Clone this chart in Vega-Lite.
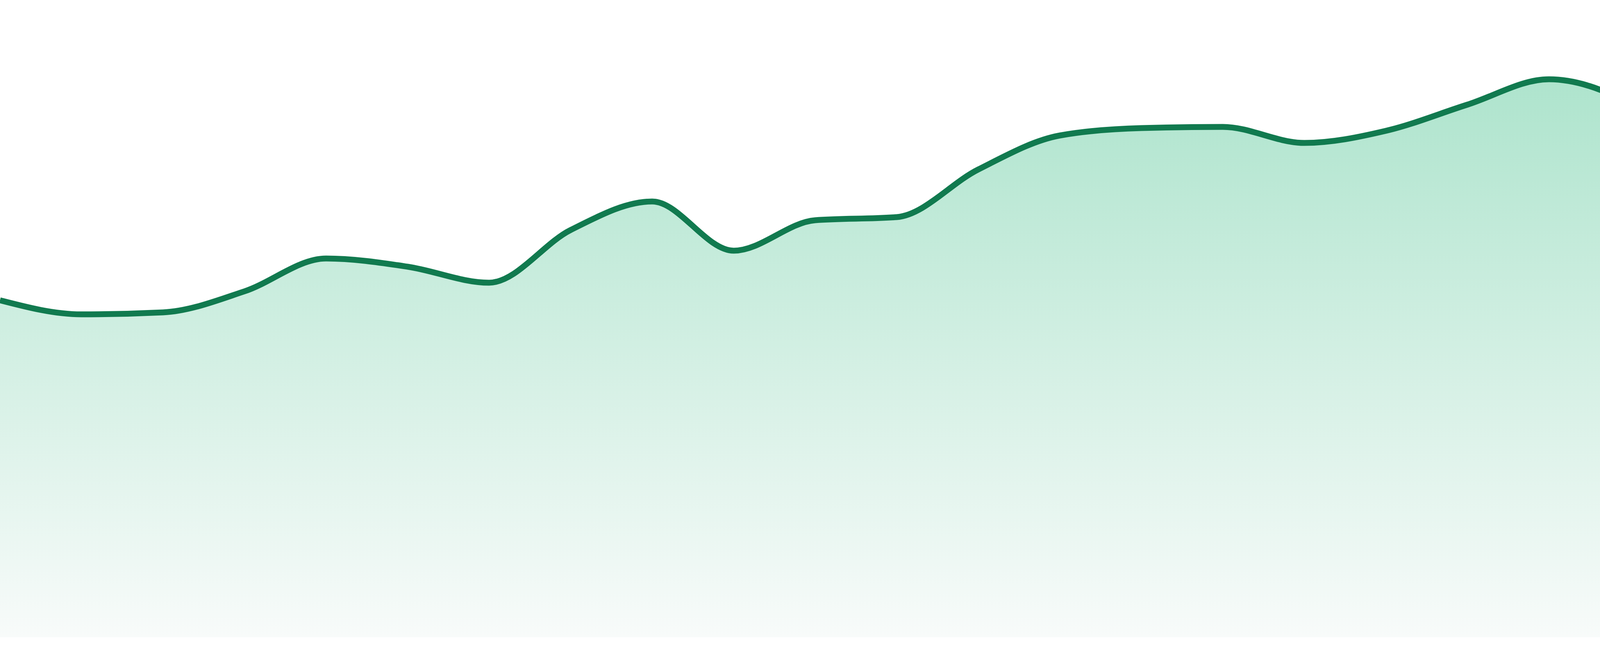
{
  "$schema": "https://vega.github.io/schema/vega-lite/v6.json",
  "width": 4800,
  "height": 1680,
  "padding": 0,
  "autosize": {"type": "none"},
  "background": "white",
  "config": {"view": {"stroke": null}},
  "data": {"values": [
    {"i": 0, "v": 863}, {"i": 1, "v": 827}, {"i": 2, "v": 832}, {"i": 3, "v": 886},
    {"i": 4, "v": 970}, {"i": 5, "v": 949}, {"i": 6, "v": 908}, {"i": 7, "v": 1043},
    {"i": 8, "v": 1116}, {"i": 9, "v": 990}, {"i": 10, "v": 1068}, {"i": 11, "v": 1076},
    {"i": 12, "v": 1198}, {"i": 13, "v": 1285}, {"i": 14, "v": 1304}, {"i": 15, "v": 1307},
    {"i": 16, "v": 1266}, {"i": 17, "v": 1297}, {"i": 18, "v": 1364}, {"i": 19, "v": 1429},
    {"i": 20, "v": 1366}, {"i": 21, "v": 1204}, {"i": 22, "v": 1245}, {"i": 23, "v": 1263}
  ]},
  "encoding": {
    "x": {"field": "i", "type": "quantitative", "scale": {"domain": [0, 23], "nice": false, "zero": false}, "axis": null},
    "y": {"field": "v", "type": "quantitative", "scale": {"domain": [-48, 1632], "nice": false, "zero": false}, "axis": null}
  },
  "layer": [
    {
      "mark": {
        "type": "area",
        "interpolate": "monotone",
        "color": {
          "x1": 0, "y1": 0, "x2": 0, "y2": 1,
          "gradient": "linear",
          "stops": [
            {"offset": 0, "color": "#aee4cd"},
            {"offset": 1, "color": "#f8fbfa"}
          ]
        }
      },
      "encoding": {"y2": {"datum": 0}}
    },
    {
      "mark": {"type": "line", "interpolate": "monotone", "color": "#117a4f", "strokeWidth": 15}
    }
  ]
}
